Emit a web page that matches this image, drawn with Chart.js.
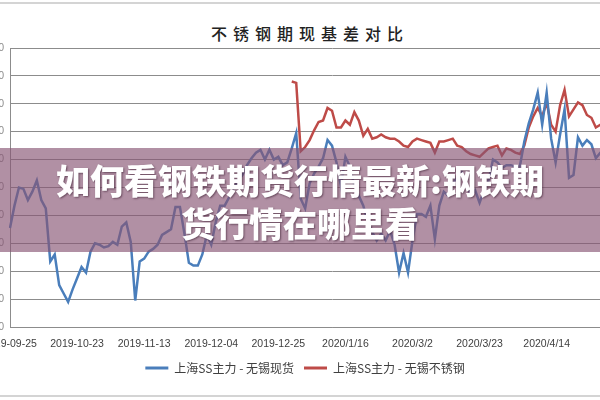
<!DOCTYPE html>
<html>
<head>
<meta charset="utf-8">
<script src="https://cdn.jsdelivr.net/npm/chart.js@4"></script>
<style>
  body { margin: 0; width: 600px; height: 400px; overflow: hidden; background: #fff; position: relative; }
  #myChart { position: absolute; left: -45px; top: 0; }
  .frame { position: absolute; left: 0; width: 600px; height: 2px; background: #d4d4d4; }
  #title { position: absolute; left: 0; width: 620px; top: 21px; text-align: center;
    font: 500 16px "Noto Sans CJK SC", sans-serif; letter-spacing: 6px; color: #222; }
  #banner { position: absolute; left: 0; top: 148px; width: 600px; height: 104px;
    background: rgba(135, 85, 115, 0.65); }
  #banner div { position: absolute; left: 0; width: 600px; top: 10px; text-align: center;
    font: 900 34px/43px "Noto Sans CJK SC", sans-serif; color: #fff;
    text-shadow: 1px 1px 2px rgba(60, 30, 50, 0.6); }
</style>
</head>
<body>
<div class="frame" style="top:2px"></div>
<div class="frame" style="top:395px"></div>
<div id="title">不锈钢期现基差对比</div>
<canvas id="myChart" width="710" height="400"></canvas>
<div id="banner"><div>如何看钢铁期货行情最新:钢铁期<br>货行情在哪里看</div></div>
<script>
'use strict'

// one label every 15 trading days
let tickLabels = ['2019-09-25', '2019-10-23', '2019-11-13', '2019-12-04', '2019-12-25', '2020/1/16', '2020/3/2', '2020/3/23', '2020/4/14'];
let labelEvery = 15;
let seriesNames = ['上海SS主力 - 无锡现货', '上海SS主力 - 无锡不锈钢'];

let blueValues = [
    -290, -130, 0, -10, -90, -30, 50, -90, -150, -530,
    -480, -700, -760, -820, -730, -650, -570, -610, -460, -400,
    -410, -430, -420, -390, -410, -280, -250, -390, -810, -530,
    -510, -460, -440, -410, -340, -320, -300, -140, -140, -330,
    -540, -560, -560, -480, -340, -410, -250, -130, -130, -70,
    0, 50, 90, 160, 210, 250, 270, 200, 270, 200,
    220, 160, 180, 280, 390, -80, -150, 30, 100, 150,
    210, 340, 300, 180, 10, 220, 150, 10, -60, -130,
    -250, -320, -380, -330, -380, -310, -410, -610, -470, -610,
    -380, -190, -190, -210, -130, -370, -130, -30, -60, 30,
    70, 110, 20, -50, -20, -110, -20, 50, 200, 180,
    140, 160, 160, 150, 150, 330, 460, 560, 680, 450,
    680, 350, 180, 380, 560, 70, 90, 360, 300, 340,
    310, 210, 250, 270, 300, 200, 130, 210, 270, 180,
    140, 90, 160, 200, 130
];

// red series starts later
let redStart = 63;
let redValues = [
    760, 750, 260, 290, 340, 410, 470, 480, 570, 550,
    430, 430, 480, 450, 540, 480, 370, 420, 350, 360,
    380, 360, 350, 350, 330, 300, 290, 330, 350, 340,
    330, 320, 250, 330, 330, 340, 350, 300, 290, 260,
    240, 230, 220, 250, 280, 290, 300, 230, 280, 270,
    250, 240, 300, 430, 510, 570, 510, 610, 450, 400,
    590, 700, 510, 560, 610, 590, 520, 500, 430, 450,
    470, 500, 450, 410, 430, 470, 440, 400, 380, 410, 430, 390
];

let yTicks = { min: -1000, max: 1000, step: 200 };

let labels = blueValues.map((v, i) => i);
let redData = new Array(redStart).fill(null).concat(redValues);

let ctx = document.getElementById('myChart').getContext('2d');
let myChart = new Chart(ctx, {
    type: 'line',
    data: {
        labels: labels,
        datasets: [{
            label: seriesNames[0],
            data: blueValues,
            borderColor: '#4a7ebb',
            backgroundColor: '#4a7ebb',
            borderWidth: 2.5,
            pointRadius: 0,
            tension: 0
        }, {
            label: seriesNames[1],
            data: redData,
            borderColor: '#be4b48',
            backgroundColor: '#be4b48',
            borderWidth: 2.5,
            pointRadius: 0,
            tension: 0
        }]
    },
    options: {
        responsive: false,
        animation: false,
        devicePixelRatio: 1,
        layout: { padding: { top: 48, right: 10, bottom: 16, left: 0 } },
        plugins: {
            tooltip: { enabled: false },
            legend: {
                position: 'bottom',
                labels: {
                    boxWidth: 23,
                    boxHeight: 3,
                    padding: 10,
                    color: '#404040',
                    font: { size: 12, family: '"Noto Sans CJK SC", sans-serif' },
                    generateLabels: function (chart) {
                        return Chart.defaults.plugins.legend.labels.generateLabels(chart).map(function (l) {
                            l.lineWidth = 0;
                            l.fillStyle = l.strokeStyle;
                            return l;
                        });
                    }
                }
            }
        },
        scales: {
            x: {
                grid: { display: false, drawTicks: false },
                border: { display: true, color: '#8c8c8c', width: 1 },
                ticks: {
                    autoSkip: false,
                    maxRotation: 0,
                    padding: 11,
                    color: '#404040',
                    font: { size: 10.5, family: '"Liberation Sans", sans-serif' },
                    callback: function (value, index) {
                        if (index % labelEvery !== 0) return '';
                        return tickLabels[index / labelEvery] || '';
                    }
                },
                afterFit: function (scale) { scale.height = 25; }
            },
            y: {
                min: yTicks.min,
                max: yTicks.max,
                grid: { color: '#8c8c8c', lineWidth: 1, drawTicks: false },
                border: { display: true, color: '#8c8c8c', width: 1 },
                ticks: {
                    stepSize: yTicks.step,
                    padding: 6,
                    color: '#8a8a8a',
                    font: { size: 10, family: '"Liberation Sans", sans-serif' }
                },
                afterFit: function (scale) { scale.width = 55; }
            }
        }
    }
});
</script>
</body>
</html>
